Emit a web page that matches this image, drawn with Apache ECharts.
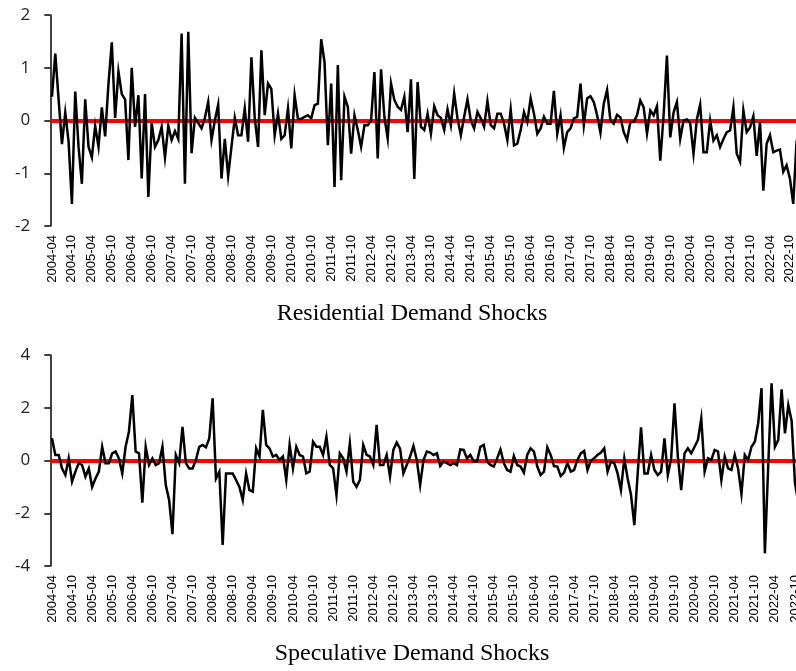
<!DOCTYPE html>
<html>
<head>
<meta charset="utf-8">
<script src="https://cdn.jsdelivr.net/npm/echarts@6/dist/echarts.min.js"></script>
<style>
html,body{margin:0;padding:0;background:#fff;overflow:hidden;width:796px;height:671px;}
#c{width:840px;height:671px;}
</style>
</head>
<body>
<div id="c"></div>
<script>
// Monthly categories 2004-04 onward (chart is clipped at the right edge)
const startYear = 2004, startMonth = 4, monthCount = 228;
const months = [];
for (let k = 0; k < monthCount; k++) {
  const m = startMonth - 1 + k;
  const y = startYear + Math.floor(m / 12);
  const mm = (m % 12) + 1;
  months.push(y + '-' + (mm < 10 ? '0' + mm : '' + mm));
}

const residentialTitle = 'Residential Demand Shocks';
const speculativeTitle = 'Speculative Demand Shocks';

const residential = [
  0.45, 1.27, 0.4, -0.45, 0.15, -0.4, -1.58, 0.55, -0.5, -1.2,
  0.4, -0.5, -0.7, -0.1, -0.5, 0.25, -0.3, 0.7, 1.48, 0.05,
  0.93, 0.5, 0.4, -0.75, 1.0, -0.12, 0.48, -1.1, 0.5, -1.45,
  -0.05, -0.5, -0.37, -0.12, -0.7, -0.1, -0.37, -0.2, -0.35, 1.65,
  -1.2, 1.68, -0.62, 0.05, -0.05, -0.15, 0.05, 0.35, -0.37, 0.0,
  0.3, -1.1, -0.35, -1.05, -0.5, 0.05, -0.28, -0.28, 0.23, -0.4,
  1.2, 0.05, -0.5, 1.33, 0.1, 0.7, 0.6, -0.28, 0.13, -0.35,
  -0.28, 0.23, -0.53, 0.48, 0.03, 0.03, 0.07, 0.1, 0.04, 0.29,
  0.32, 1.54, 1.1, -0.47, 0.7, -1.26, 1.05, -1.13, 0.45, 0.26,
  -0.63, 0.1, -0.18, -0.5, -0.09, -0.09, 0.0, 0.92, -0.72, 0.97,
  0.07, -0.34, 0.7, 0.39, 0.26, 0.2, 0.45, -0.22, 0.78, -1.11,
  0.73, -0.12, -0.18, 0.13, -0.25, 0.27, 0.1, 0.05, -0.18, 0.21,
  -0.09, 0.51, 0.04, -0.28, 0.07, 0.4, 0.0, -0.15, 0.16, 0.04,
  -0.12, 0.37, -0.09, -0.15, 0.13, 0.13, -0.06, -0.37, 0.21, -0.47,
  -0.44, -0.18, 0.16, -0.03, 0.42, 0.13, -0.25, -0.15, 0.07, -0.06,
  -0.06, 0.56, -0.25, 0.1, -0.52, -0.22, -0.15, 0.04, 0.07, 0.7,
  -0.09, 0.42, 0.46, 0.35, 0.1, -0.23, 0.32, 0.58, 0.0, -0.06,
  0.11, 0.06, -0.22, -0.37, -0.03, -0.03, 0.1, 0.38, 0.25, -0.25,
  0.19, 0.1, 0.27, -0.76, 0.1, 1.23, -0.32, 0.15, 0.35, -0.35,
  0.0, 0.02, -0.05, -0.63, 0.02, 0.3, -0.6, -0.6, 0.0, -0.38,
  -0.28, -0.5, -0.35, -0.22, -0.19, 0.25, -0.63, -0.78, 0.19, -0.22,
  -0.13, 0.08, -0.67, -0.03, -1.33, -0.44, -0.28, -0.6, -0.57, -0.55,
  -0.97, -0.85, -1.1, -1.58, -0.4, -0.2, 0.1, -0.1
];

const speculative = [
  0.84, 0.21, 0.21, -0.3, -0.55, 0.08, -0.8, -0.42, -0.1, -0.17,
  -0.61, -0.3, -1.0, -0.68, -0.42, 0.52, -0.1, -0.1, 0.27, 0.34,
  0.08, -0.49, 0.52, 1.1, 2.48, 0.34, 0.27, -1.6, 0.52, -0.17,
  0.08, -0.17, -0.1, 0.52, -0.93, -1.5, -2.79, 0.21, -0.1, 1.28,
  -0.1, -0.3, -0.3, 0.02, 0.52, 0.59, 0.5, 0.84, 2.36, -0.68,
  -0.42, -3.2, -0.49, -0.49, -0.49, -0.74, -1.0, -1.5, -0.49, -1.12,
  -1.18, 0.46, 0.15, 1.92, 0.59, 0.46, 0.15, 0.21, 0.02, 0.15,
  -0.74, 0.59, -0.3, 0.52, 0.21, 0.15, -0.49, -0.42, 0.71, 0.52,
  0.52, 0.21, 0.9, -0.17, -0.3, -1.31, 0.27, 0.08, -0.42, 0.65,
  -0.8, -1.0, -0.74, 0.59, 0.21, 0.15, -0.17, 1.35, -0.17, -0.17,
  0.21, -0.61, 0.4, 0.68, 0.45, -0.49, -0.17, 0.15, 0.55, 0.02,
  -0.93, 0.02, 0.34, 0.3, 0.21, 0.27, -0.21, -0.04, -0.1, -0.17,
  -0.1, -0.17, 0.42, 0.4, 0.08, 0.21, -0.04, -0.04, 0.52, 0.59,
  -0.04, -0.17, -0.23, 0.08, 0.42, -0.1, -0.36, -0.42, 0.17, -0.17,
  -0.23, -0.46, 0.21, 0.46, 0.34, -0.23, -0.55, -0.42, 0.5, 0.21,
  -0.21, -0.23, -0.59, -0.46, -0.1, -0.42, -0.36, 0.02, 0.27, 0.36,
  -0.36, 0.0, 0.08, 0.21, 0.3, 0.46, -0.42, -0.04, -0.1, -0.49,
  -1.12, 0.08, -0.68, -1.3, -2.45, -0.49, 1.26, -0.49, -0.49, 0.21,
  -0.36, -0.55, -0.42, 0.84, -0.55, 0.08, 2.17, 0.15, -1.12, 0.27,
  0.46, 0.27, 0.52, 0.78, 1.6, -0.42, 0.08, 0.02, 0.4, 0.34,
  -0.74, 0.15, -0.3, -0.36, 0.21, -0.3, -1.27, 0.21, 0.02, 0.52,
  0.71, 1.41, 2.74, -3.52, -0.2, 2.93, 0.52, 0.78, 2.7, 1.03,
  2.1, 1.5, -0.87, -1.6, -0.8, 0.2, 0.0, 0.1
];

const residentialAxis = {min: -2, max: 2, interval: 1};
const speculativeAxis = {min: -4, max: 4, interval: 2};

function xAxisFor(gridIndex) {
  return {
    type: 'category', gridIndex: gridIndex, data: months, boundaryGap: true,
    axisLine: {show: false}, axisTick: {show: false},
    axisLabel: {
      interval: 5, rotate: 90, margin: 9, color: '#000',
      fontFamily: 'Liberation Sans', fontSize: 13
    },
    splitLine: {show: false}
  };
}
function yAxisFor(gridIndex, ax) {
  return {
    type: 'value', gridIndex: gridIndex, min: ax.min, max: ax.max, interval: ax.interval,
    axisLine: {show: true, lineStyle: {color: '#000', width: 1.5}},
    axisTick: {show: true, inside: false, length: 6, lineStyle: {color: '#000', width: 1.5}},
    axisLabel: {color: '#222', fontFamily: 'Open Sans', fontSize: 17, margin: 20},
    splitLine: {show: false}
  };
}
function zeroLine(idx) {
  return {
    type: 'line', xAxisIndex: idx, yAxisIndex: idx, data: [], z: 1, silent: true,
    markLine: {
      silent: true, symbol: 'none', animation: false, z: 1,
      label: {show: false},
      lineStyle: {color: '#ff0000', width: 4, type: 'solid'},
      data: [{yAxis: 0}]
    }
  };
}
function mainLine(idx, data) {
  return {
    type: 'line', xAxisIndex: idx, yAxisIndex: idx, data: data, z: 10,
    symbol: 'none', smooth: false, clip: true,
    lineStyle: {color: '#000', width: 2.5, join: 'miter'}
  };
}

const chart = echarts.init(document.getElementById('c'), null, {renderer: 'canvas'});
chart.setOption({
  backgroundColor: '#ffffff',
  animation: false,
  grid: [
    {left: 50.3, top: 15, width: 757.9, height: 211},
    {left: 50.3, top: 355, width: 763.1, height: 211}
  ],
  xAxis: [xAxisFor(0), xAxisFor(1)],
  yAxis: [yAxisFor(0, residentialAxis), yAxisFor(1, speculativeAxis)],
  series: [
    zeroLine(0), mainLine(0, residential),
    zeroLine(1), mainLine(1, speculative)
  ],
  graphic: [
    {type: 'text', x: 412, y: 314, style: {text: residentialTitle, fontFamily: 'Liberation Serif', fontSize: 24, fill: '#000', align: 'center', verticalAlign: 'middle'}},
    {type: 'text', x: 412, y: 654, style: {text: speculativeTitle, fontFamily: 'Liberation Serif', fontSize: 24, fill: '#000', align: 'center', verticalAlign: 'middle'}}
  ]
});
</script>
</body>
</html>
